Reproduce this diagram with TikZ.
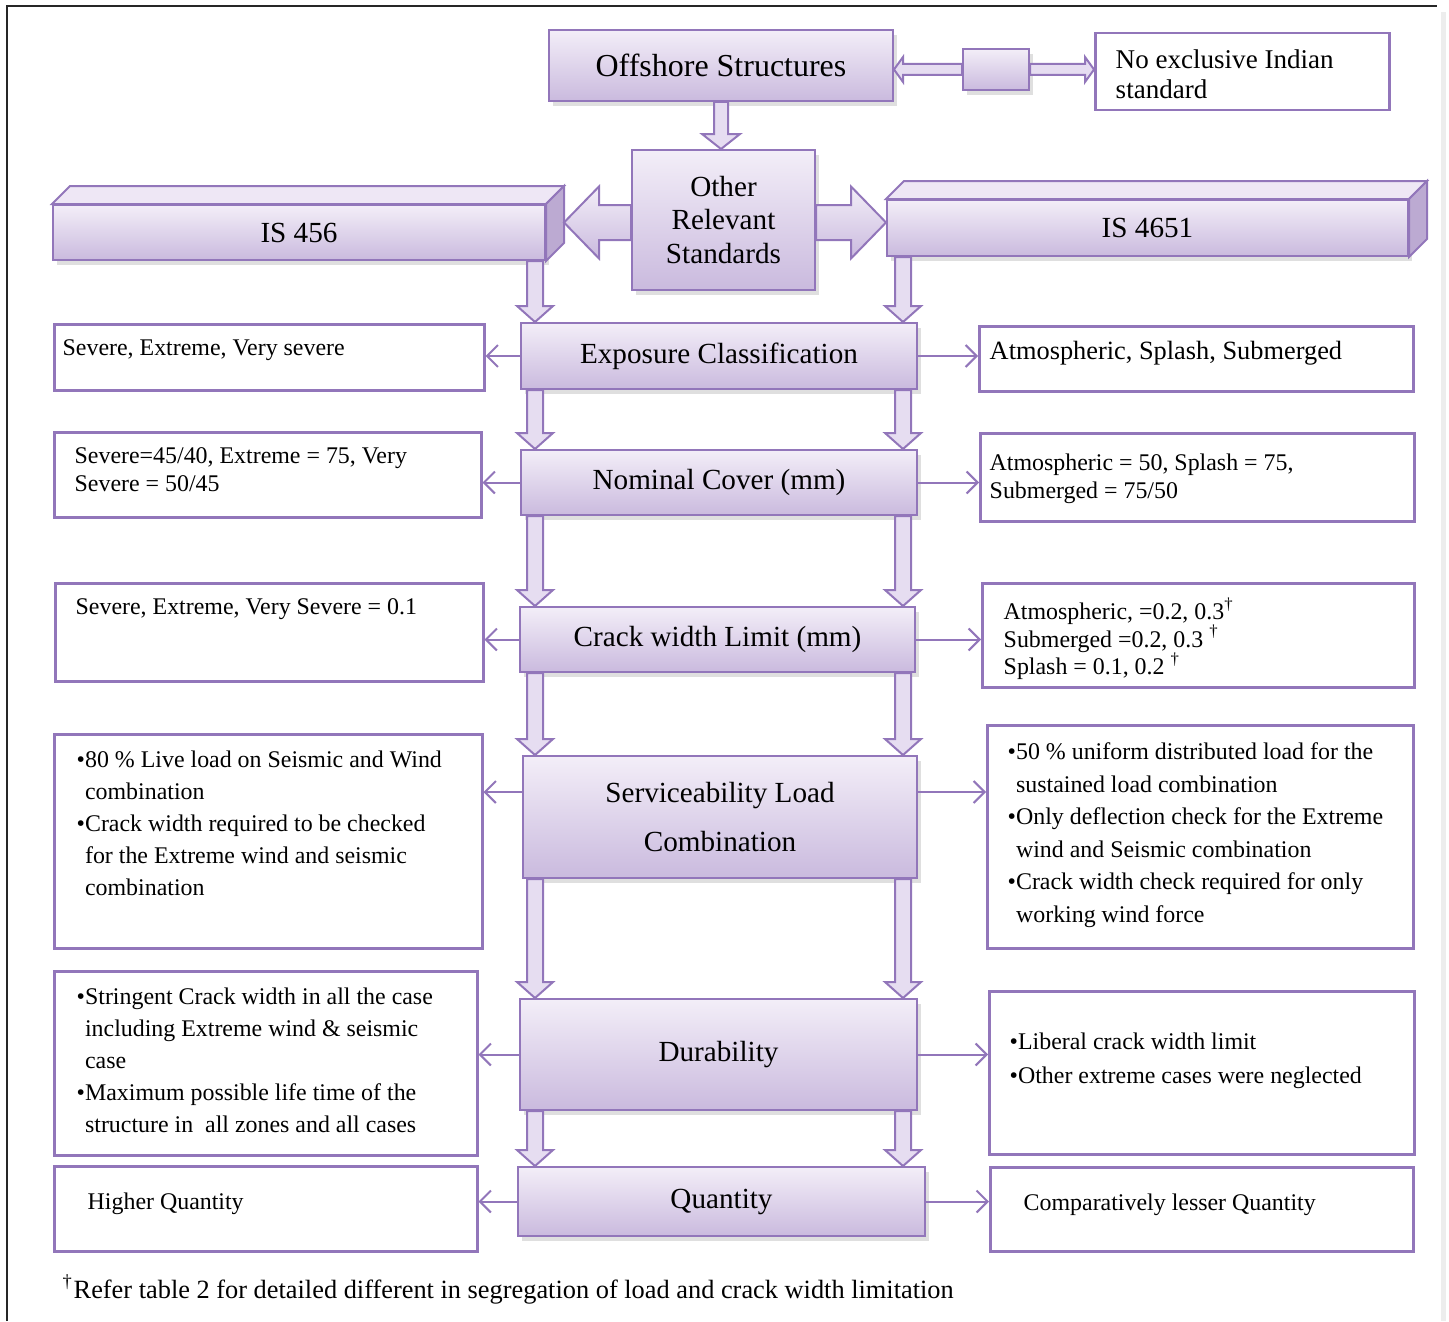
\documentclass[tikz,border=0pt]{standalone}
\usepackage{fontspec}
\setmainfont{Liberation Serif}
\usetikzlibrary{calc, arrows.meta, shadows}

\definecolor{bc}{RGB}{146,118,186}
\definecolor{mtop}{RGB}{243,238,248}
\definecolor{mbot}{RGB}{202,186,222}
\definecolor{afill}{RGB}{230,221,241}
\definecolor{ftop}{RGB}{238,231,245}
\definecolor{fside}{RGB}{188,170,210}

\newcommand{\bu}{\textbullet}
\newcommand{\ind}{\phantom{\textbullet}}
\newcommand{\dg}{\textsuperscript{\textdagger}}

\tikzset{
  main/.style={draw=bc, line width=0.2mm, top color=mtop, bottom color=mbot,
    drop shadow={shadow xshift=0.4mm, shadow yshift=-0.5mm, opacity=0.25},
    inner sep=0, align=center, font=\fontsize{8.3}{9.5}\selectfont},
  side/.style={draw=bc, line width=0.25mm, fill=white, inner sep=0, anchor=north west},
  txt/.style={inner sep=0, anchor=north west, align=left, font=\fontsize{6.8}{8}\selectfont},
  face/.style={draw=bc, line width=0.2mm},
  harr/.style={draw=bc, line width=0.2mm, -{Straight Barb[length=1.1mm, width=2.2mm]}},
  blk/.style n args={3}{draw=bc, line width=0.2mm, fill=afill, to path={
    ($(\tikztostart)!#1!90:(\tikztotarget)$)
    -- ($(\tikztotarget)!#3!(\tikztostart)!#1!90:(\tikztotarget)$)
    -- ($(\tikztotarget)!#3!(\tikztostart)!#2!90:(\tikztotarget)$)
    -- (\tikztotarget)
    -- ($(\tikztotarget)!#3!(\tikztostart)!#2!-90:(\tikztotarget)$)
    -- ($(\tikztotarget)!#3!(\tikztostart)!#1!-90:(\tikztotarget)$)
    -- ($(\tikztostart)!#1!-90:(\tikztotarget)$) -- cycle}}
}

\begin{document}
\begin{tikzpicture}[x=0.1mm, y=-0.1mm]
      \useasboundingbox (0,0) rectangle (1449,1321);
      % frame
      \draw[line width=0.25mm, black!85] (7,1321) -- (7,6) -- (1437,6);
      \draw[line width=0.5mm, black!7] (1443,12) -- (1443,1321);
      \coordinate (lc) at (535,0);
      \coordinate (rc) at (903,0);
      % top row
      \node[main, font=\fontsize{9.1}{10}\selectfont, minimum width=34.4mm, minimum height=7.1mm] (off) at (721,65.5) {Offshore Structures};
      \node[main, minimum width=6.6mm, minimum height=4.1mm] (mid) at (996,69.5) {};
      \node[side, minimum width=29.4mm, minimum height=7.7mm] (noind) at (1094,32) {};
      \node[txt, font=\fontsize{7.7}{8.5}\selectfont] (noindt) at (1115,49) {No exclusive Indian\\standard};
      \node[main, minimum width=18.3mm, minimum height=14mm] (other) at (723.5,220) {Other\\Relevant\\Standards};
      % standards
      \node[main, minimum width=49.2mm, minimum height=5.5mm] (isl) at (299,232.5) {IS 456};
      \draw[face, fill=ftop] (isl.north west) -- ++(18,-18) -- ([shift={(18,-18)}]isl.north east) -- (isl.north east) -- cycle;
      \draw[face, fill=fside] (isl.north east) -- ++(18,-18) -- ([shift={(18,-18)}]isl.south east) -- (isl.south east) -- cycle;
      \node[main, minimum width=52.1mm, minimum height=5.6mm] (isr) at (1147.5,228) {IS 4651};
      \draw[face, fill=ftop] (isr.north west) -- ++(18,-18) -- ([shift={(18,-18)}]isr.north east) -- (isr.north east) -- cycle;
      \draw[face, fill=fside] (isr.north east) -- ++(18,-18) -- ([shift={(18,-18)}]isr.south east) -- (isr.south east) -- cycle;
      % middle column
      \node[main, minimum width=39.6mm, minimum height=6.6mm] (exp) at (719,356) {Exposure Classification};
      \node[main, minimum width=39.6mm, minimum height=6.5mm] (cov) at (719,482.5) {Nominal Cover (mm)};
      \node[main, minimum width=39.5mm, minimum height=6.5mm] (crk) at (717.5,639.5) {Crack width Limit (mm)};
      \node[main, font=\fontsize{8.3}{14.2}\selectfont, minimum width=39.4mm, minimum height=12.2mm] (srv) at (720,817) {Serviceability Load\\Combination};
      \node[main, minimum width=39.7mm, minimum height=11.1mm] (dur) at (718.5,1054.5) {Durability};
      \node[main, minimum width=40.7mm, minimum height=6.9mm] (qty) at (721.5,1201.5) {Quantity};
      % left boxes
      \node[side, minimum width=43mm, minimum height=6.6mm] (exl) at (53,323) {};
      \node[txt] (exlt) at (62,339) {Severe, Extreme, Very severe};
      \node[side, minimum width=42.7mm, minimum height=8.5mm] (covl) at (53,431) {};
      \node[txt] (covlt) at (74,447) {Severe=45/40, Extreme = 75, Very\\Severe = 50/45};
      \node[side, minimum width=42.8mm, minimum height=9.8mm] (crkl) at (54,582) {};
      \node[txt] (crklt) at (75,598) {Severe, Extreme, Very Severe = 0.1};
      \node[side, minimum width=42.8mm, minimum height=21.4mm] (srvl) at (53,733) {};
      \node[txt, font=\fontsize{6.8}{9.1}\selectfont] (srvlt) at (76,750) {\bu80 \% Live load on Seismic and Wind\\\ind combination\\\bu Crack width required to be checked\\\ind for the Extreme wind and seismic\\\ind combination};
      \node[side, minimum width=42.3mm, minimum height=18.4mm] (durl) at (53,970) {};
      \node[txt, font=\fontsize{6.8}{9.15}\selectfont] (durlt) at (76,987) {\bu Stringent Crack width in all the case\\\ind including Extreme wind \& seismic\\\ind case\\\bu Maximum possible life time of the\\\ind structure in~ all zones and all cases};
      \node[side, minimum width=42.3mm, minimum height=8.5mm] (qtyl) at (53,1165) {};
      \node[txt] (qtylt) at (87,1192) {Higher Quantity};
      % right boxes
      \node[side, minimum width=43.4mm, minimum height=6.5mm] (exr) at (978,325) {};
      \node[txt, font=\fontsize{7.5}{8.5}\selectfont] (exrt) at (989,341) {Atmospheric, Splash, Submerged};
      \node[side, minimum width=43.4mm, minimum height=8.8mm] (covr) at (979,432) {};
      \node[txt] (covrt) at (989,453) {Atmospheric = 50, Splash = 75,\\Submerged = 75/50};
      \node[side, minimum width=43.2mm, minimum height=10.4mm] (crkr) at (981,582) {};
      \node[txt, font=\fontsize{6.8}{7.8}\selectfont] (crkrt) at (1003,597) {Atmospheric, =0.2, 0.3\dg\\Submerged =0.2, 0.3 \dg\\Splash = 0.1, 0.2 \dg};
      \node[side, minimum width=42.6mm, minimum height=22.3mm] (srvr) at (986,724) {};
      \node[txt, font=\fontsize{6.8}{9.25}\selectfont] (srvrt) at (1007,742) {\bu50 \% uniform distributed load for the\\\ind sustained load combination\\\bu Only deflection check for the Extreme\\\ind wind and Seismic combination\\\bu Crack width check required for only\\\ind working wind force};
      \node[side, minimum width=42.5mm, minimum height=16.3mm] (durr) at (988,990) {};
      \node[txt, font=\fontsize{6.8}{9.6}\selectfont] (durrt) at (1009,1032) {\bu Liberal crack width limit\\\bu Other extreme cases were neglected};
      \node[side, minimum width=42.3mm, minimum height=8.4mm] (qtyr) at (989,1166) {};
      \node[txt] (qtyrt) at (1023,1193) {Comparatively lesser Quantity};
      % note
      \node[txt, anchor=base west, font=\fontsize{7.5}{8.5}\selectfont] (note) at (62,1298) {\dg Refer table 2 for detailed different in segregation of load and crack width limitation};
      % block arrows at the top
      \draw[blk={0.55mm}{1.25mm}{0.9mm}] (mid.west) to (mid.west -| off.east);
      \draw[blk={0.55mm}{1.25mm}{0.9mm}] (mid.east) to (mid.east -| noind.west);
      \draw[blk={0.7mm}{1.9mm}{1.5mm}] (off.south) to (off.south |- other.north);
      \coordinate (lt) at ([shift={(18,-10)}]isl.east);
      \draw[blk={1.75mm}{3.6mm}{3.5mm}, top color=mtop, bottom color=mbot] (other.west |- lt) to (lt);
      \draw[blk={1.75mm}{3.6mm}{3.5mm}, top color=mtop, bottom color=mbot] (other.east |- lt) to (isr.west |- lt);
      % down arrows, left column
      \draw[blk={0.8mm}{1.8mm}{1.6mm}] (isl.south -| lc) to (exp.north -| lc);
      \draw[blk={0.8mm}{1.8mm}{1.6mm}] (exp.south -| lc) to (cov.north -| lc);
      \draw[blk={0.8mm}{1.8mm}{1.6mm}] (cov.south -| lc) to (crk.north -| lc);
      \draw[blk={0.8mm}{1.8mm}{1.6mm}] (crk.south -| lc) to (srv.north -| lc);
      \draw[blk={0.8mm}{1.8mm}{1.6mm}] (srv.south -| lc) to (dur.north -| lc);
      \draw[blk={0.8mm}{1.8mm}{1.6mm}] (dur.south -| lc) to (qty.north -| lc);
      % down arrows, right column
      \draw[blk={0.8mm}{1.8mm}{1.6mm}] (isr.south -| rc) to (exp.north -| rc);
      \draw[blk={0.8mm}{1.8mm}{1.6mm}] (exp.south -| rc) to (cov.north -| rc);
      \draw[blk={0.8mm}{1.8mm}{1.6mm}] (cov.south -| rc) to (crk.north -| rc);
      \draw[blk={0.8mm}{1.8mm}{1.6mm}] (crk.south -| rc) to (srv.north -| rc);
      \draw[blk={0.8mm}{1.8mm}{1.6mm}] (srv.south -| rc) to (dur.north -| rc);
      \draw[blk={0.8mm}{1.8mm}{1.6mm}] (dur.south -| rc) to (qty.north -| rc);
      % side arrows
      \coordinate (sl) at ([yshift=2.5mm]srv.west);
      \coordinate (sr) at ([yshift=2.5mm]srv.east);
      \draw[harr] (exp.west) -- (exp.west -| exl.east);
      \draw[harr] (exp.east) -- (exp.east -| exr.west);
      \draw[harr] (cov.west) -- (cov.west -| covl.east);
      \draw[harr] (cov.east) -- (cov.east -| covr.west);
      \draw[harr] (crk.west) -- (crk.west -| crkl.east);
      \draw[harr] (crk.east) -- (crk.east -| crkr.west);
      \draw[harr] (sl) -- (sl -| srvl.east);
      \draw[harr] (sr) -- (sr -| srvr.west);
      \draw[harr] (dur.west) -- (dur.west -| durl.east);
      \draw[harr] (dur.east) -- (dur.east -| durr.west);
      \draw[harr] (qty.west) -- (qty.west -| qtyl.east);
      \draw[harr] (qty.east) -- (qty.east -| qtyr.west);
\end{tikzpicture}
\end{document}
